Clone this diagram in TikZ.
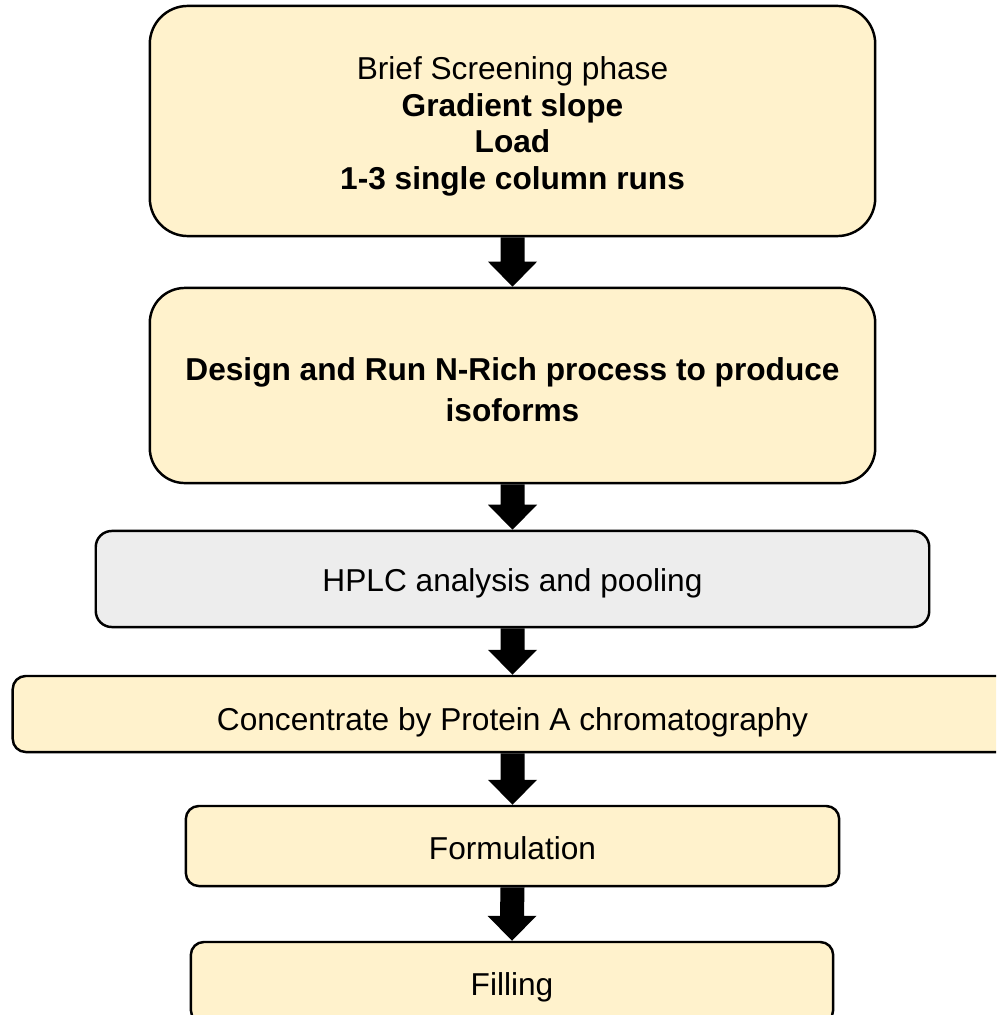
\documentclass[tikz,border=0pt]{standalone}
\usepackage{fontspec}
\setmainfont{Liberation Sans}
\usetikzlibrary{calc}
\definecolor{boxyellow}{HTML}{FFF2CC}
\definecolor{boxgrey}{HTML}{EDEDED}
\tikzset{
  box/.style={draw=black, line width=0.7pt, fill=boxyellow, align=center, inner sep=0pt,
    font=\fontsize{9}{10.4}\selectfont},
  greybox/.style={box, fill=boxgrey},
  lowered/.style={text height=#1, text depth=0pt},
}
\newcommand{\blockarrow}[2]{%
  \fill[black] ($(#1.south)+(-12,0)$) -- ($(#2.north)+(-12,-25)$) -- ($(#2.north)+(-24.5,-25)$)
    -- (#2.north) -- ($(#2.north)+(24.5,-25)$) -- ($(#2.north)+(12,-25)$)
    -- ($(#1.south)+(12,0)$) -- cycle;}
\begin{document}
\begin{tikzpicture}[x=0.01cm,y=-0.01cm]
\useasboundingbox (0,0) rectangle (996,1015);
\clip (0,0) rectangle (996,1015);
\fill[white] (0,0) rectangle (996,1015);
\node[box, minimum width=7.25cm, minimum height=2.30cm, rounded corners=0.38cm] (b1) at (512.5,121)
  {\rule{0pt}{9.5pt}Brief Screening phase\\ \textbf{Gradient slope}\\ \textbf{Load}\\ \textbf{1-3 single column runs}};
\node[box, minimum width=7.25cm, minimum height=1.95cm, rounded corners=0.35cm] (b2) at (512.5,385.5)
  {\rule{0pt}{8.9pt}\textbf{Design and Run N-Rich process to produce}\\[1pt] \textbf{isoforms}};
\node[greybox, lowered=7.0pt, minimum width=8.33cm, minimum height=0.96cm, rounded corners=0.16cm] (b3) at (512.5,579)
  {HPLC analysis and pooling};
\node[box, lowered=9.2pt, minimum width=9.99cm, minimum height=0.76cm, rounded corners=0.13cm] (b4) at (512.5,714)
  {Concentrate by Protein A chromatography};
\node[box, lowered=7.7pt, minimum width=6.53cm, minimum height=0.80cm, rounded corners=0.13cm] (b5) at (512.5,846)
  {Formulation};
\node[box, lowered=7.5pt, minimum width=6.42cm, minimum height=0.81cm, rounded corners=0.13cm] (b6) at (512,982.5)
  {Filling};
\blockarrow{b1}{b2}
\blockarrow{b2}{b3}
\blockarrow{b3}{b4}
\blockarrow{b4}{b5}
\blockarrow{b5}{b6}
\end{tikzpicture}
\end{document}
